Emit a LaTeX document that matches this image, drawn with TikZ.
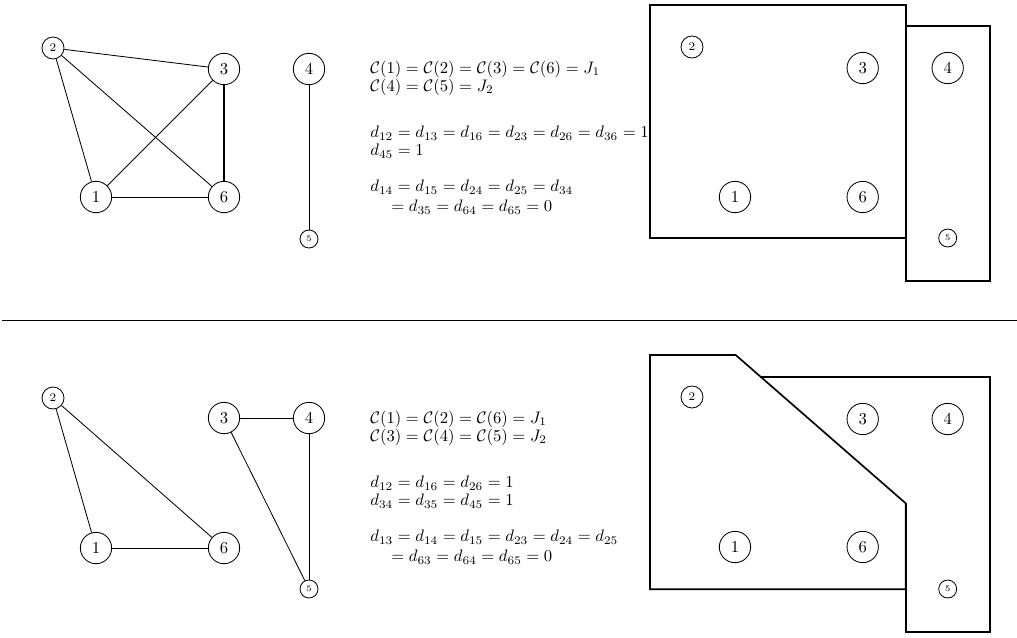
\documentclass[tikz,border=0pt]{standalone}
\usepackage{amsmath}
\begin{document}
\begin{tikzpicture}[x=0.6pt,y=-0.6pt,
  big/.style={circle,draw,line width=0.5pt,minimum size=18.8pt,inner sep=0pt,font=\normalsize},
  sm/.style={circle,draw,line width=0.5pt,minimum size=13.2pt,inner sep=0pt,font=\scriptsize},
  xs/.style={circle,draw,line width=0.5pt,minimum size=10.8pt,inner sep=0pt,font=\tiny},
  edge/.style={line width=0.5pt},
  heavy/.style={line width=1.1pt},
  part/.style={line width=1pt,line join=miter},
  eq/.style={anchor=west,inner sep=0pt,font=\normalsize}]
\useasboundingbox (0,0) rectangle (1017,637);

% ---------- top graph ----------
\node[sm]  (a2) at (53,48)  {2};
\node[big] (a3) at (224,69) {3};
\node[big] (a1) at (96,197) {1};
\node[big] (a6) at (224,197) {6};
\node[big] (a4) at (309,69) {4};
\node[xs]  (a5) at (309,239) {5};
\draw[edge] (a2) -- (a3);
\draw[edge] (a2) -- (a1);
\draw[edge] (a2) -- (a6);
\draw[edge] (a1) -- (a3);
\draw[edge] (a1) -- (a6);
\draw[heavy] (a3) -- (a6);
\draw[edge] (a4) -- (a5);

% ---------- top text ----------
\node[eq] (t1) at (370,69)  {$\mathcal{C}(1)=\mathcal{C}(2)=\mathcal{C}(3)=\mathcal{C}(6)=J_1$};
\node[eq] (t2) at (370,87)  {$\mathcal{C}(4)=\mathcal{C}(5)=J_2$};
\node[eq] (t3) at (370,133) {$d_{12}=d_{13}=d_{16}=d_{23}=d_{26}=d_{36}=1$};
\node[eq] (t4) at (370,151) {$d_{45}=1$};
\node[eq] (t5) at (370,187) {$d_{14}=d_{15}=d_{24}=d_{25}=d_{34}$};
\node[eq] (t6) at (391,207) {$=d_{35}=d_{64}=d_{65}=0$};

% ---------- top partition ----------
\draw[part] (650,4.7) rectangle (905.7,238);
\draw[part] (905.7,25.7) rectangle (990,281);
\node[sm]  (b2) at (692,47)    {2};
\node[big] (b3) at (862.7,68)  {3};
\node[big] (b4) at (947.7,68)  {4};
\node[big] (b1) at (735,197)   {1};
\node[big] (b6) at (862.7,197) {6};
\node[xs]  (b5) at (947.7,238) {5};

% ---------- separator ----------
\draw[edge] (2,320) -- (1017,320);

% ---------- bottom graph ----------
\node[sm]  (c2) at (53,398)  {2};
\node[big] (c3) at (224,418) {3};
\node[big] (c4) at (309,418) {4};
\node[big] (c1) at (96,548)  {1};
\node[big] (c6) at (224,548) {6};
\node[xs]  (c5) at (309,589) {5};
\draw[edge] (c2) -- (c1);
\draw[edge] (c2) -- (c6);
\draw[edge] (c1) -- (c6);
\draw[edge] (c3) -- (c4);
\draw[edge] (c4) -- (c5);
\draw[edge] (c3) -- (c5);

% ---------- bottom text ----------
\node[eq] (u1) at (370,419) {$\mathcal{C}(1)=\mathcal{C}(2)=\mathcal{C}(6)=J_1$};
\node[eq] (u2) at (370,437) {$\mathcal{C}(3)=\mathcal{C}(4)=\mathcal{C}(5)=J_2$};
\node[eq] (u3) at (370,483) {$d_{12}=d_{16}=d_{26}=1$};
\node[eq] (u4) at (370,501) {$d_{34}=d_{35}=d_{45}=1$};
\node[eq] (u5) at (370,537) {$d_{13}=d_{14}=d_{15}=d_{23}=d_{24}=d_{25}$};
\node[eq] (u6) at (391,557) {$=d_{63}=d_{64}=d_{65}=0$};

% ---------- bottom partition ----------
\draw[part] (650,355) -- (735.7,355) -- (905.7,503.3) -- (905.7,589.3) -- (650,589.3) -- cycle;
\draw[part] (760,376.7) -- (990,376.7) -- (990,632.3) -- (905.7,632.3) -- (905.7,503.3);
\node[sm]  (d2) at (692,397)   {2};
\node[big] (d3) at (862.7,419) {3};
\node[big] (d4) at (947.7,419) {4};
\node[big] (d1) at (735,547)   {1};
\node[big] (d6) at (862.7,547) {6};
\node[xs]  (d5) at (947.7,589) {5};
\end{tikzpicture}
\end{document}
